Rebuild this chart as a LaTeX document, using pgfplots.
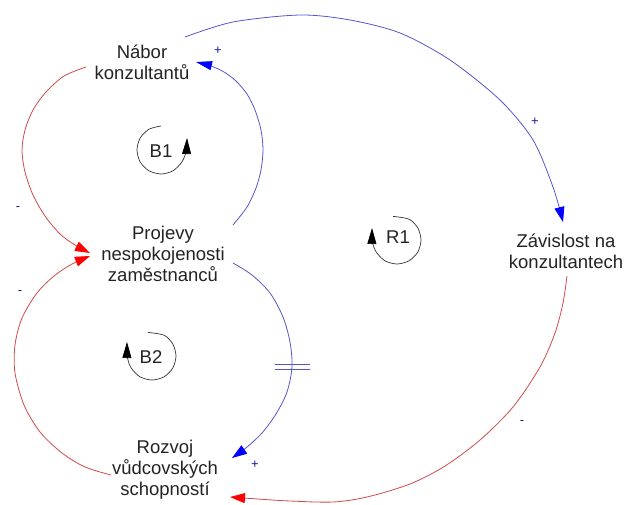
\documentclass[border=0pt]{standalone}
\usepackage{pgfplots}
\pgfplotsset{compat=1.18}
\usepackage{fontspec}
\setmainfont{Liberation Sans}
\usetikzlibrary{arrows.meta}
\definecolor{lblue}{RGB}{85,85,205}
\definecolor{lred}{RGB}{205,75,75}
\definecolor{navy}{RGB}{25,25,150}
\definecolor{txt}{RGB}{35,35,35}
\begin{document}
\begin{tikzpicture}
\begin{axis}[width=628pt,height=504pt,scale only axis,
  xmin=0,xmax=628,ymin=0,ymax=504,y dir=reverse,hide axis,clip=false]
\path (rel axis cs:0,0) rectangle (rel axis cs:1,1);
% links
\addplot[lblue,line width=0.8pt,smooth,mark=none,-{Triangle[length=16pt,width=9pt,color=blue]}]
  coordinates {(233,225) (247,207) (256,188) (261,170) (263,150) (261,130) (255,110) (247,94) (236,81) (224,72) (211,66) (196,62)};
\addplot[lred,line width=0.8pt,smooth,mark=none,-{Triangle[length=15pt,width=10pt,color=red]}]
  coordinates {(86,67) (64,76) (46,92) (33,110) (25,130) (22,150) (25,172) (33,195) (45,216) (60,234) (75,245) (90,253)};
\addplot[lred,line width=0.8pt,smooth,mark=none,-{Triangle[length=15pt,width=10pt,color=red]}]
  coordinates {(111,475) (85,467) (62,453) (40,432) (24,405) (15,373) (15,345) (22,318) (37,293) (54,276) (72,264) (90,256)};
\addplot[lblue,line width=0.8pt,smooth,mark=none,-{Triangle[length=15pt,width=10pt,color=blue]}]
  coordinates {(233,263) (252,275) (270,293) (283,317) (290,342) (292,367) (287,392) (276,414) (262,433) (247,447) (232,458)};
\addplot[lblue,line width=0.8pt,smooth,mark=none,-{Triangle[length=15pt,width=10pt,color=blue]}]
  coordinates {(185,37) (233,22) (300,15) (350,20) (400,33) (450,60) (500,100) (533,140) (553,187) (563,222)};
\addplot[lred,line width=0.8pt,smooth,mark=none,-{Triangle[length=15pt,width=10pt,color=red]}]
  coordinates {(567,276) (563,303) (555,333) (540,367) (513,407) (480,440) (445,466) (410,484) (367,497) (333,502) (290,501) (258,499) (230,497)};
% delay mark
\addplot[lblue,line width=0.8pt,mark=none] coordinates {(275,364) (310,364)};
\addplot[lblue,line width=0.8pt,mark=none] coordinates {(275,369) (310,369)};
% loop markers
\addplot[black!80,line width=0.7pt,smooth,mark=none,-{Triangle[length=16pt,width=9pt,color=black]}]
  coordinates {(161,126) (149,129.2) (140.2,138) (137,150) (140.2,162) (149,170.8) (161,174) (173,170.8) (181.8,162) (186,152) (187,138)};
\addplot[black!80,line width=0.7pt,smooth,mark=none,-{Triangle[length=16pt,width=9pt,color=black]}]
  coordinates {(393.2,216.4) (409,219.2) (417.8,228) (421,240) (417.8,252) (409,260.8) (397,264) (385,260.8) (376.2,252) (372.5,242) (372,228)};
\addplot[black!80,line width=0.7pt,smooth,mark=none,-{Triangle[length=16pt,width=9pt,color=black]}]
  coordinates {(147.8,332.4) (164,335.2) (172.8,344) (176,356) (172.8,368) (164,376.8) (152,380) (140,376.8) (131.2,368) (127.5,358) (127,342)};
% texts
\begin{scope}[every node/.style={font=\fontsize{18.5}{21}\selectfont,align=center,text=txt}]
\node at (axis cs:142,62) {Nábor\\konzultantů};
\node at (axis cs:163,254) {Projevy\\nespokojenosti\\zaměstnanců};
\node at (axis cs:566,251) {Závislost na\\konzultantech};
\node at (axis cs:165,470) {Rozvoj\\vůdcovských\\schopností};
\node at (axis cs:161,151) {B1};
\node at (axis cs:398,237) {R1};
\node at (axis cs:151,357) {B2};
\end{scope}
\begin{scope}[every node/.style={font=\fontsize{13}{15}\selectfont,text=navy}]
\node at (axis cs:218,51) {+};
\node at (axis cs:18,209) {-};
\node at (axis cs:535,122) {+};
\node at (axis cs:20,293) {-};
\node at (axis cs:255,465) {+};
\node at (axis cs:522,423) {-};
\end{scope}
\end{axis}
\end{tikzpicture}
\end{document}
